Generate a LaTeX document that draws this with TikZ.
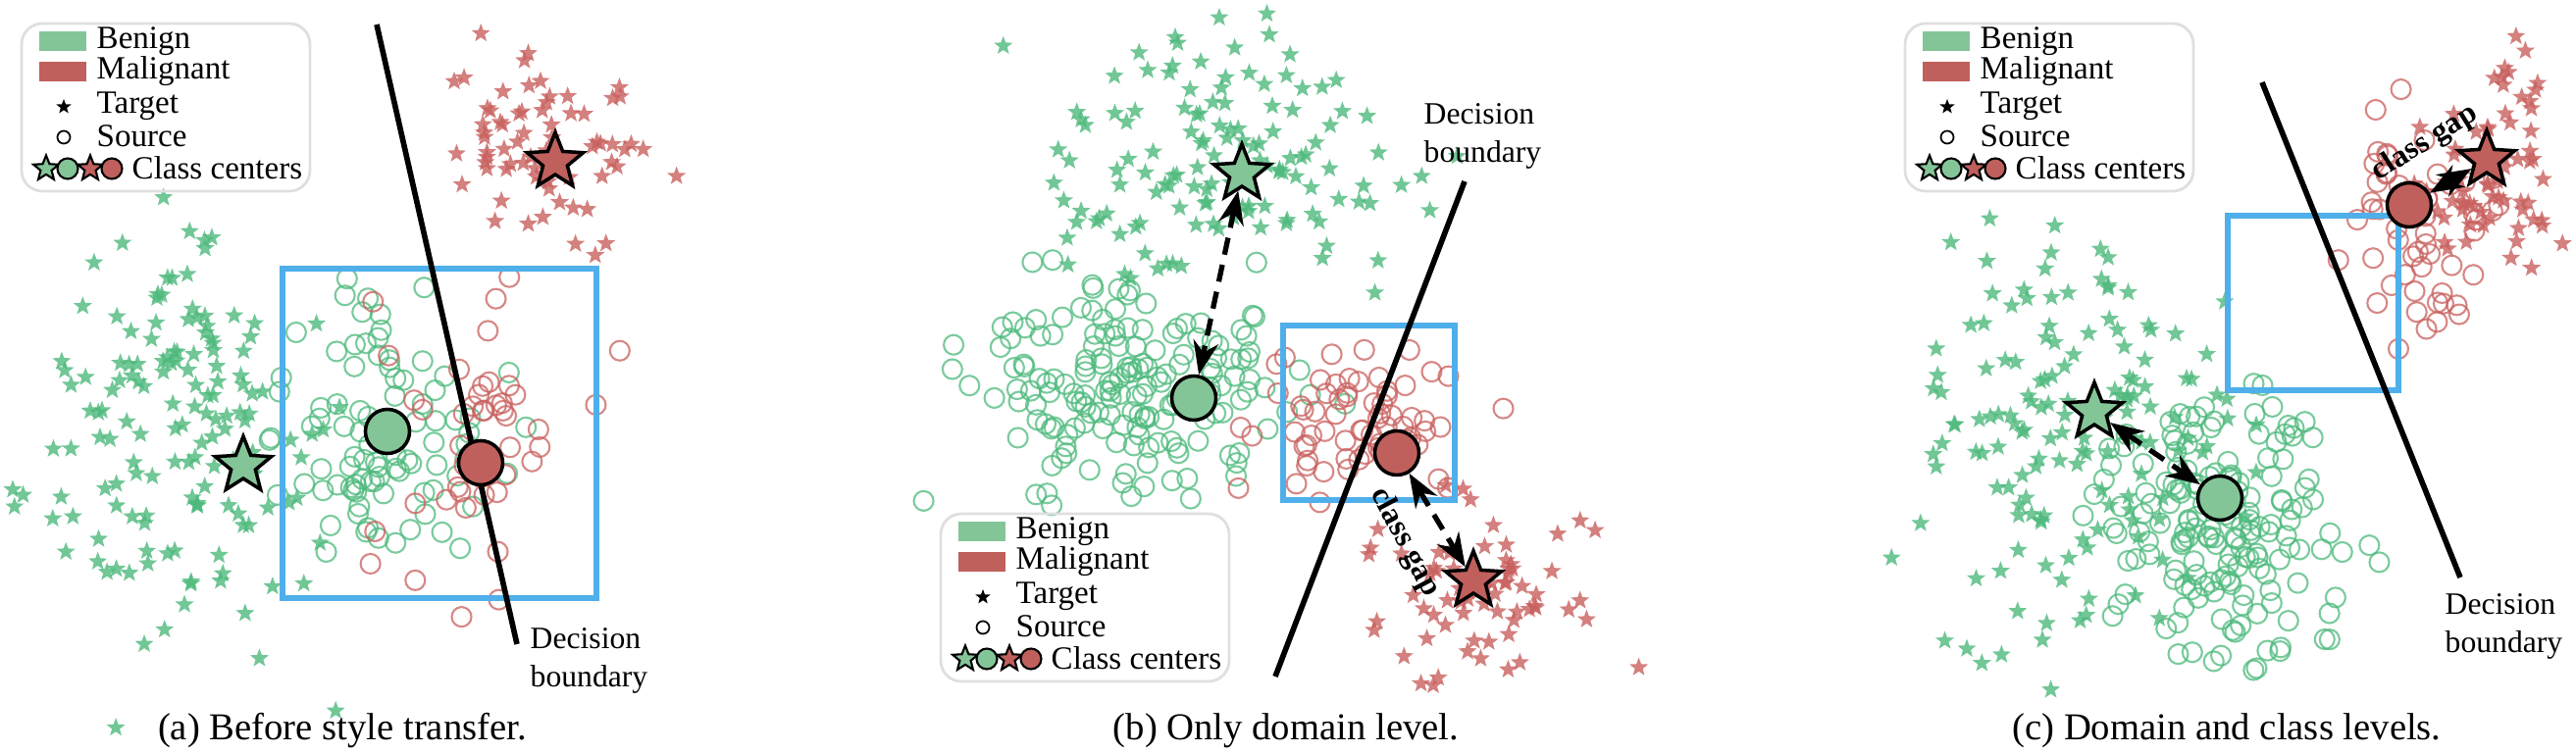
\documentclass[tikz,border=0pt]{standalone}
\usepackage{fontspec}
\setmainfont{Liberation Serif}
\usetikzlibrary{shapes.geometric,arrows.meta,positioning}
\definecolor{benign}{HTML}{4DB97C}
\definecolor{malig}{HTML}{C8605E}
\definecolor{benignfill}{HTML}{84C598}
\definecolor{maligfill}{HTML}{C0605D}
\definecolor{boxblue}{HTML}{4FAFEA}
% one cloud of points: style, count, centre x, centre y, spread x, spread y
\newcommand\cloud[6]{%
  \foreach \i in {1,...,#2}{%
    \pgfmathsetmacro\px{#3+#5*2*(rnd+rnd+rnd-1.5)}%
    \pgfmathsetmacro\py{#4+#6*2*(rnd+rnd+rnd-1.5)}%
    \node[#1] at (\px,-\py) {};
  }}
% legend box with its top left corner at x, y
\newcommand\legendbox[3]{%
  \begin{scope}[shift={(#1,-#2)}]
    \draw[gray!25, line width=0.8pt, rounded corners=6pt] (0,0) rectangle (294,-171);
    \fill[benignfill] (18,-8) rectangle (66,-28);
    \fill[maligfill] (18,-39) rectangle (66,-59);
    \node[starDot, fill=black, opacity=1, minimum size=0.16cm] (#3_t) at (43,-85) {};
    \node[draw, circle, inner sep=0, minimum size=0.13cm, line width=0.5pt] (#3_s) at (43,-116) {};
    \node[bigStar, fill=benignfill, minimum size=0.27cm, line width=0.6pt] (#3_c1) at (25,-148) {};
    \node[bigDot, fill=benignfill, minimum size=0.21cm, line width=0.6pt] (#3_c2) at (47,-148) {};
    \node[bigStar, fill=maligfill, minimum size=0.27cm, line width=0.6pt] (#3_c3) at (70,-148) {};
    \node[bigDot, fill=maligfill, minimum size=0.21cm, line width=0.6pt] (#3_c4) at (92,-148) {};
    \node[legText] (#3_l1) at (76,-18) {Benign};
    \node[legText] (#3_l2) at (76,-49) {Malignant};
    \node[legText] (#3_l3) at (76,-84) {Target};
    \node[legText] (#3_l4) at (76,-115) {Source};
    \node[legText] (#3_l5) at (112,-147) {Class centers};
  \end{scope}}
\begin{document}
\begin{tikzpicture}[x=0.01cm, y=0.01cm,
  starDot/.style={star, star points=5, star point ratio=2.4, inner sep=0, minimum size=0.2cm, opacity=0.8},
  gStar/.style={starDot, fill=benign},
  rStar/.style={starDot, fill=malig},
  ringDot/.style={circle, draw, inner sep=0, minimum size=0.2cm, line width=0.6pt, opacity=0.75},
  gRing/.style={ringDot, draw=benign},
  rRing/.style={ringDot, draw=malig},
  bigStar/.style={star, star points=5, star point ratio=2.3, inner sep=0, draw=black, line width=1pt, minimum size=0.6cm},
  bigDot/.style={circle, inner sep=0, draw=black, line width=1pt, minimum size=0.45cm},
  legText/.style={anchor=west, inner sep=0, font=\fontsize{9.4}{10}\selectfont},
  labText/.style={align=left, anchor=north west, inner sep=0, font=\fontsize{9}{11}\selectfont},
  capText/.style={font=\fontsize{11}{13}\selectfont},
  gapText/.style={font=\bfseries\fontsize{9}{10}\selectfont, inner sep=1},
  boundary/.style={line width=1.6pt},
  focusBox/.style={draw=boxblue, line width=1.5pt},
  gapArrow/.style={{Stealth}-{Stealth}, line width=1.5pt, dash pattern=on 5pt off 3pt}]
\useasboundingbox (0,0) rectangle (2626,-768);

% (a) before style transfer
\pgfmathsetseed{11}
\cloud{gStar}{150}{190}{460}{70}{100}
\cloud{rStar}{70}{560}{145}{55}{50}
\cloud{gRing}{90}{390}{430}{60}{70}
\cloud{rRing}{45}{480}{460}{55}{75}
\draw[focusBox] (288,-274) rectangle (608,-610);
\draw[boundary] (384,-25) -- (527,-657);
\node[labText] (a_lab) at (540,-640) {Decision\\boundary};
\node[bigStar, fill=benignfill] (a_gs) at (248,-475) {};
\node[bigStar, fill=maligfill] (a_rs) at (566,-165) {};
\node[bigDot, fill=benignfill] (a_gc) at (395,-440) {};
\node[bigDot, fill=maligfill] (a_rc) at (490,-472) {};
\legendbox{22}{24}{a}
\node[capText] (a_cap) at (349,-745) {(a) Before style transfer.};

% (b) only domain level
\pgfmathsetseed{23}
\cloud{gStar}{130}{1250}{160}{90}{65}
\cloud{gRing}{170}{1150}{395}{85}{55}
\cloud{rRing}{70}{1375}{435}{65}{40}
\cloud{rStar}{70}{1510}{600}{60}{45}
\draw[focusBox] (1308,-332) rectangle (1483,-510);
\draw[boundary] (1493,-185) -- (1300,-690);
\node[labText] (b_lab) at (1451,-105) {Decision\\boundary};
\node[bigStar, fill=benignfill] (b_gs) at (1266,-177) {};
\node[bigDot, fill=benignfill] (b_gc) at (1217,-406) {};
\node[bigDot, fill=maligfill] (b_rc) at (1424,-462) {};
\node[bigStar, fill=maligfill] (b_rs) at (1502,-592) {};
\draw[gapArrow] (b_gs) -- (b_gc);
\draw[gapArrow] (b_rc) -- (b_rs);
\node[gapText, rotate=-62] (b_gap) at (1432,-553) {class gap};
\legendbox{959}{524}{b}
\node[capText] (b_cap) at (1311,-745) {(b) Only domain level.};

% (c) domain and class levels
\pgfmathsetseed{37}
\cloud{gStar}{150}{2120}{440}{80}{100}
\cloud{gRing}{170}{2275}{535}{60}{65}
\cloud{rRing}{55}{2460}{235}{40}{65}
\cloud{rStar}{70}{2540}{180}{35}{60}
\draw[focusBox] (2271,-220) rectangle (2445,-398);
\draw[boundary] (2306,-84) -- (2508,-589);
\node[labText] (c_lab) at (2492,-605) {Decision\\boundary};
\node[bigDot, fill=maligfill] (c_rc) at (2456,-209) {};
\node[bigStar, fill=maligfill] (c_rs) at (2535,-163) {};
\node[bigStar, fill=benignfill] (c_gs) at (2135,-420) {};
\node[bigDot, fill=benignfill] (c_gc) at (2263,-508) {};
\draw[gapArrow] (c_gs) -- (c_gc);
\draw[gapArrow] (c_rc) -- (c_rs);
\node[gapText, rotate=32] (c_gap) at (2472,-146) {class gap};
\legendbox{1942}{24}{c}
\node[capText] (c_cap) at (2270,-745) {(c) Domain and class levels.};
\end{tikzpicture}
\end{document}
